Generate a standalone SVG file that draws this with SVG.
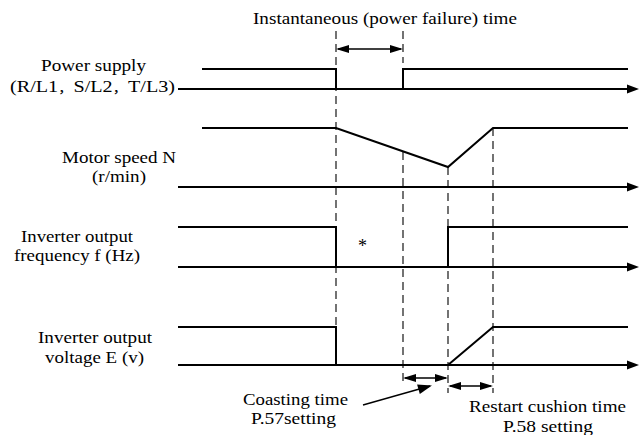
<svg xmlns="http://www.w3.org/2000/svg" width="639" height="435" viewBox="0 0 639 435" font-family="'Liberation Serif','Times New Roman','DejaVu Serif',serif">
<defs>
<style>
text{font-family:'Liberation Serif','Times New Roman','DejaVu Serif',serif;font-size:17px;fill:#000}
.cjk{font-family:'Noto Sans CJK SC',sans-serif;font-size:13px}
.sig{fill:none;stroke:#000;stroke-width:2;stroke-linejoin:miter}
.axis{fill:none;stroke:#000;stroke-width:2.2;marker-end:url(#ax)}
.dash{fill:none;stroke:#000;stroke-width:1.1;stroke-dasharray:8 5}
.dbl{fill:none;stroke:#000;stroke-width:1.5;marker-start:url(#da);marker-end:url(#da)}
.ptr{fill:none;stroke:#000;stroke-width:1.3;marker-end:url(#pa)}
</style>
<marker id="ax" markerUnits="userSpaceOnUse" markerWidth="12" markerHeight="10" refX="2" refY="4.5" orient="auto" overflow="visible"><path d="M0,0 L12,4.5 L0,9 Z" fill="#000"/></marker>
<marker id="da" markerUnits="userSpaceOnUse" markerWidth="13" markerHeight="9" refX="11" refY="4" orient="auto-start-reverse" overflow="visible"><path d="M0,0 L13,4 L0,8 Z" fill="#000"/></marker>
<marker id="pa" markerUnits="userSpaceOnUse" markerWidth="14" markerHeight="10" refX="12" refY="5" orient="auto" overflow="visible"><path d="M0,0 L14,5 L0,10 Z" fill="#000"/></marker>
</defs>
<rect width="639" height="435" fill="#fff"/>

<g id="title">
<text x="253" y="24" textLength="264" lengthAdjust="spacingAndGlyphs">Instantaneous (power failure) time</text>
</g>

<g id="power-supply">
<text x="41" y="71" textLength="105" lengthAdjust="spacingAndGlyphs">Power supply</text>
<text x="10" y="92" textLength="165" lengthAdjust="spacingAndGlyphs">(R/L1<tspan class="cjk">，</tspan>S/L2<tspan class="cjk">，</tspan>T/L3)</text>
<polyline class="sig" points="202,69 336,69 336,89"/>
<polyline class="sig" points="403,89 403,69 628,69"/>
</g>

<g id="motor-speed">
<text x="62" y="163" textLength="114" lengthAdjust="spacingAndGlyphs">Motor speed N</text>
<text x="92" y="182" textLength="54" lengthAdjust="spacingAndGlyphs">(r/min)</text>
<polyline class="sig" points="202,128 336,128 448,167 493,128 628,128"/>
</g>

<g id="output-frequency">
<text x="21" y="242" textLength="112" lengthAdjust="spacingAndGlyphs">Inverter output</text>
<text x="14" y="261" textLength="126" lengthAdjust="spacingAndGlyphs">frequency f (Hz)</text>
<polyline class="sig" points="178,227 336,227 336,267"/>
<polyline class="sig" points="448,267 448,227 628,227"/>
<text x="358" y="252" style="font-size:18px">*</text>
</g>

<g id="output-voltage">
<text x="38" y="343" textLength="114" lengthAdjust="spacingAndGlyphs">Inverter output</text>
<text x="45" y="363" textLength="99" lengthAdjust="spacingAndGlyphs">voltage E (v)</text>
<polyline class="sig" points="178,327 336,327 336,365"/>
<polyline class="sig" points="448,365 493,327 628,327"/>
</g>

<g id="coasting-label">
<text x="243" y="405" textLength="105" lengthAdjust="spacingAndGlyphs">Coasting time</text>
<text x="251" y="424" textLength="85" lengthAdjust="spacingAndGlyphs">P.57setting</text>
</g>

<g id="restart-label">
<text x="469" y="412" textLength="157" lengthAdjust="spacingAndGlyphs">Restart cushion time</text>
<text x="503" y="432" textLength="90" lengthAdjust="spacingAndGlyphs">P.58 setting</text>
</g>

<g id="connectors">
<line class="axis" x1="178" y1="89" x2="629" y2="89"/>
<line class="axis" x1="178" y1="187" x2="629" y2="187"/>
<line class="axis" x1="178" y1="267" x2="629" y2="267"/>
<line class="axis" x1="178" y1="365" x2="629" y2="365"/>
<line class="dash" x1="336" y1="31" x2="336" y2="365"/>
<line class="dash" x1="403" y1="31" x2="403" y2="63"/>
<line class="dash" x1="403" y1="152" x2="403" y2="385"/>
<line class="dash" x1="448" y1="167" x2="448" y2="393"/>
<line class="dash" x1="493" y1="128" x2="493" y2="393"/>
<line class="dbl" x1="338" y1="49" x2="401" y2="49"/>
<line class="dbl" x1="405" y1="378" x2="446" y2="378"/>
<line class="dbl" x1="450" y1="386" x2="491" y2="386"/>
<line class="ptr" x1="363" y1="405" x2="430" y2="386"/>
</g>
</svg>
